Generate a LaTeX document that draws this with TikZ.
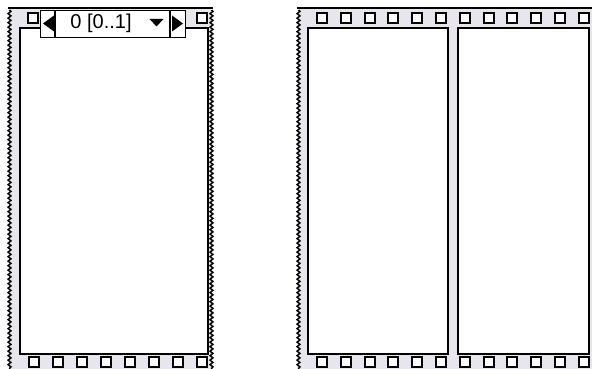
\documentclass[tikz,border=0pt]{standalone}
\usepackage{fontspec}
\setmainfont{Liberation Sans}
\usetikzlibrary{decorations.pathmorphing}
\definecolor{band}{rgb}{0.91,0.90,0.93}
\tikzset{
  panel/.style={draw=black, line width=2pt, fill=white},
  hole/.style={draw=black, line width=2pt, fill=white, minimum size=10pt, inner sep=0pt, anchor=north west},
  wavy/.style={draw=black, line width=1.5pt, decorate, decoration={snake, segment length=4.5pt, amplitude=1.4pt}},
  topline/.style={draw=black, line width=1.2pt},
  selbox/.style={draw=black, line width=1.3pt, fill=white},
  tri/.style={fill=black, draw=none}
}
\begin{document}
\begin{tikzpicture}[x=1pt,y=-1pt]
\useasboundingbox (0,0) rectangle (592,369);
\fill[white] (0,0) rectangle (592,369);
% ---- left frame ----
\fill[band] (10,8) rectangle (211,369);
\draw[topline] (8,8) -- (213,8);
\draw[wavy] (9.5,10) -- (9.5,369);
\draw[wavy] (211.5,10) -- (211.5,369);
\node[panel, minimum width=188pt, minimum height=326pt, inner sep=0pt, anchor=north west] (lp) at (19,27) {};
\foreach \x [count=\i] in {27.5,51.5,75.5,99.5,123.5,147.5,171.5,195.5} {
  \node[hole] (lb\i) at (\x,355.5) {};
}
\node[hole] (lt1) at (27,12.5) {};
\node[hole] (lt2) at (195.5,12.5) {};
% selector
\node[selbox, minimum width=145pt, minimum height=27pt, inner sep=0pt, anchor=north west] (sel) at (40,10) {};
\draw[line width=1.3pt] (55,10) -- (55,37);
\draw[line width=1.3pt] (170,10) -- (170,37);
\node[inner sep=0pt, anchor=center, font=\fontsize{20}{20}\selectfont] (seltext) at (101,23.5) {0 [0..1]};
\fill[tri] (43,23.5) -- (54,15.5) -- (54,31.5) -- cycle;
\fill[tri] (183,23.5) -- (172,15.5) -- (172,31.5) -- cycle;
\fill[tri] (149.5,19) -- (163.5,19) -- (156.5,26.5) -- cycle;
% ---- right frame ----
\fill[band] (299,8) rectangle (592,369);
\draw[topline] (297,8) -- (592,8);
\draw[wavy] (298.5,10) -- (298.5,369);
\node[panel, minimum width=140pt, minimum height=326pt, inner sep=0pt, anchor=north west] (rp1) at (307,27) {};
\node[panel, minimum width=131pt, minimum height=326pt, inner sep=0pt, anchor=north west] (rp2) at (457,27) {};
\foreach \i in {0,...,11} {
  \pgfmathsetmacro{\xx}{316+23.8*\i}
  \node[hole] (rt\i) at (\xx,12.5) {};
  \node[hole] (rb\i) at (\xx,355.5) {};
}
\end{tikzpicture}
\end{document}
